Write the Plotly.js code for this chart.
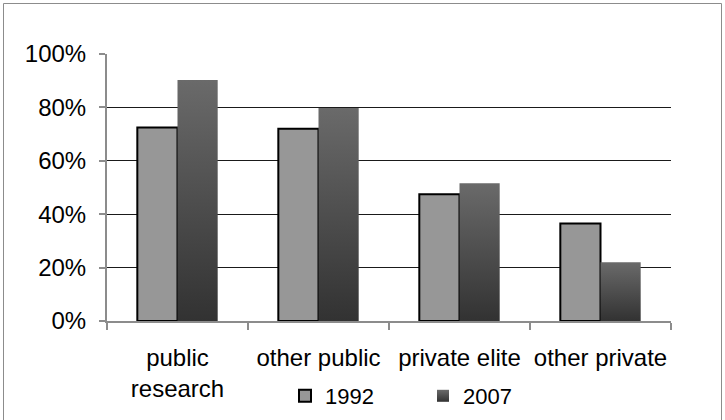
<!DOCTYPE html>
<html>
<head>
<meta charset="utf-8">
<script src="https://cdn.plot.ly/plotly-3.0.1.min.js"></script>
<style>
  html, body { margin: 0; padding: 0; background: #fff; }
  #chart { width: 725px; height: 420px; }
</style>
</head>
<body>
<div id="chart"></div>
<script>
// Data
const categories = ["public<br>research", "other public", "private elite", "other private"];
const series1992 = [0.725, 0.72, 0.475, 0.365];
const series2007 = [0.903, 0.798, 0.516, 0.22];
const seriesNames = ["1992", "2007"];
const yTicks = [0, 0.2, 0.4, 0.6, 0.8, 1.0];

const FONT = "Liberation Sans, Arial, sans-serif";
const AXIS_GRAY = "#8c8c8c";

const traces = [
  {
    type: "bar", name: seriesNames[0], x: categories, y: series1992,
    marker: { color: "#979797", line: { color: "#000000", width: 2 } }
  },
  {
    type: "bar", name: seriesNames[1], x: categories, y: series2007,
    marker: { color: "#4d4d4d", line: { width: 0 } }
  }
];

const layout = {
  width: 725, height: 420,
  paper_bgcolor: "#ffffff", plot_bgcolor: "#ffffff",
  margin: { l: 107, r: 54, t: 54, b: 99, autoexpand: false },
  font: { family: FONT, size: 24, color: "#000" },
  barmode: "group", bargap: 0.43, bargroupgap: 0,
  showlegend: true,
  legend: {
    orientation: "h",
    xref: "container", x: 285 / 725, xanchor: "left",
    yref: "container", y: 1 - 396 / 420, yanchor: "middle",
    font: { family: FONT, size: 22, color: "#000" },
    entrywidth: 93, entrywidthmode: "pixels",
    itemclick: false, bgcolor: "rgba(0,0,0,0)"
  },
  xaxis: {
    type: "category", tickangle: 0,
    showline: true, linecolor: AXIS_GRAY, linewidth: 2,
    ticks: "outside", tickson: "boundaries", ticklen: 7, tickcolor: AXIS_GRAY, tickwidth: 2,
    showgrid: false, zeroline: false,
    tickfont: { family: FONT, size: 24 },
    ticklabelstandoff: 14
  },
  yaxis: {
    range: [0, 1], tickvals: yTicks, tickformat: ".0%",
    showline: true, linecolor: AXIS_GRAY, linewidth: 2,
    ticks: "outside", ticklen: 6, tickcolor: AXIS_GRAY, tickwidth: 2,
    showgrid: true, gridcolor: "#1a1a1a", gridwidth: 1,
    zeroline: false,
    tickfont: { family: FONT, size: 24 },
    ticklabelstandoff: 8
  },
  shapes: [
    { type: "rect", xref: "paper", yref: "paper",
      x0: (3.5 - 107) / 564, x1: (721.5 - 107) / 564,
      y0: (321 - 430) / 267, y1: (321 - 3.5) / 267,
      line: { color: "#8c8c8c", width: 1 }, fillcolor: "rgba(0,0,0,0)", layer: "below" }
  ]
};

Plotly.newPlot("chart", traces, layout, { displayModeBar: false, staticPlot: true }).then(function (gd) {
  const svg = gd.querySelector("svg.main-svg");
  const ns = "http://www.w3.org/2000/svg";
  let defs = svg.querySelector("defs");
  if (!defs) { defs = document.createElementNS(ns, "defs"); svg.insertBefore(defs, svg.firstChild); }
  const grad = document.createElementNS(ns, "linearGradient");
  grad.setAttribute("id", "grad2007");
  grad.setAttribute("x1", "0"); grad.setAttribute("y1", "0");
  grad.setAttribute("x2", "0"); grad.setAttribute("y2", "1");
  [["0%", "#6a6a6a"], ["100%", "#323232"]].forEach(function (s) {
    const st = document.createElementNS(ns, "stop");
    st.setAttribute("offset", s[0]); st.setAttribute("stop-color", s[1]);
    grad.appendChild(st);
  });
  defs.appendChild(grad);
  const barTraces = gd.querySelectorAll(".barlayer .trace.bars");
  if (barTraces[1]) barTraces[1].querySelectorAll("path").forEach(function (p) { p.style.fill = "url(#grad2007)"; });
  const legTraces = gd.querySelectorAll(".legend .traces");
  if (legTraces[1]) legTraces[1].querySelectorAll(".legendsymbols path").forEach(function (p) { p.style.fill = "url(#grad2007)"; });
});
</script>
</body>
</html>
